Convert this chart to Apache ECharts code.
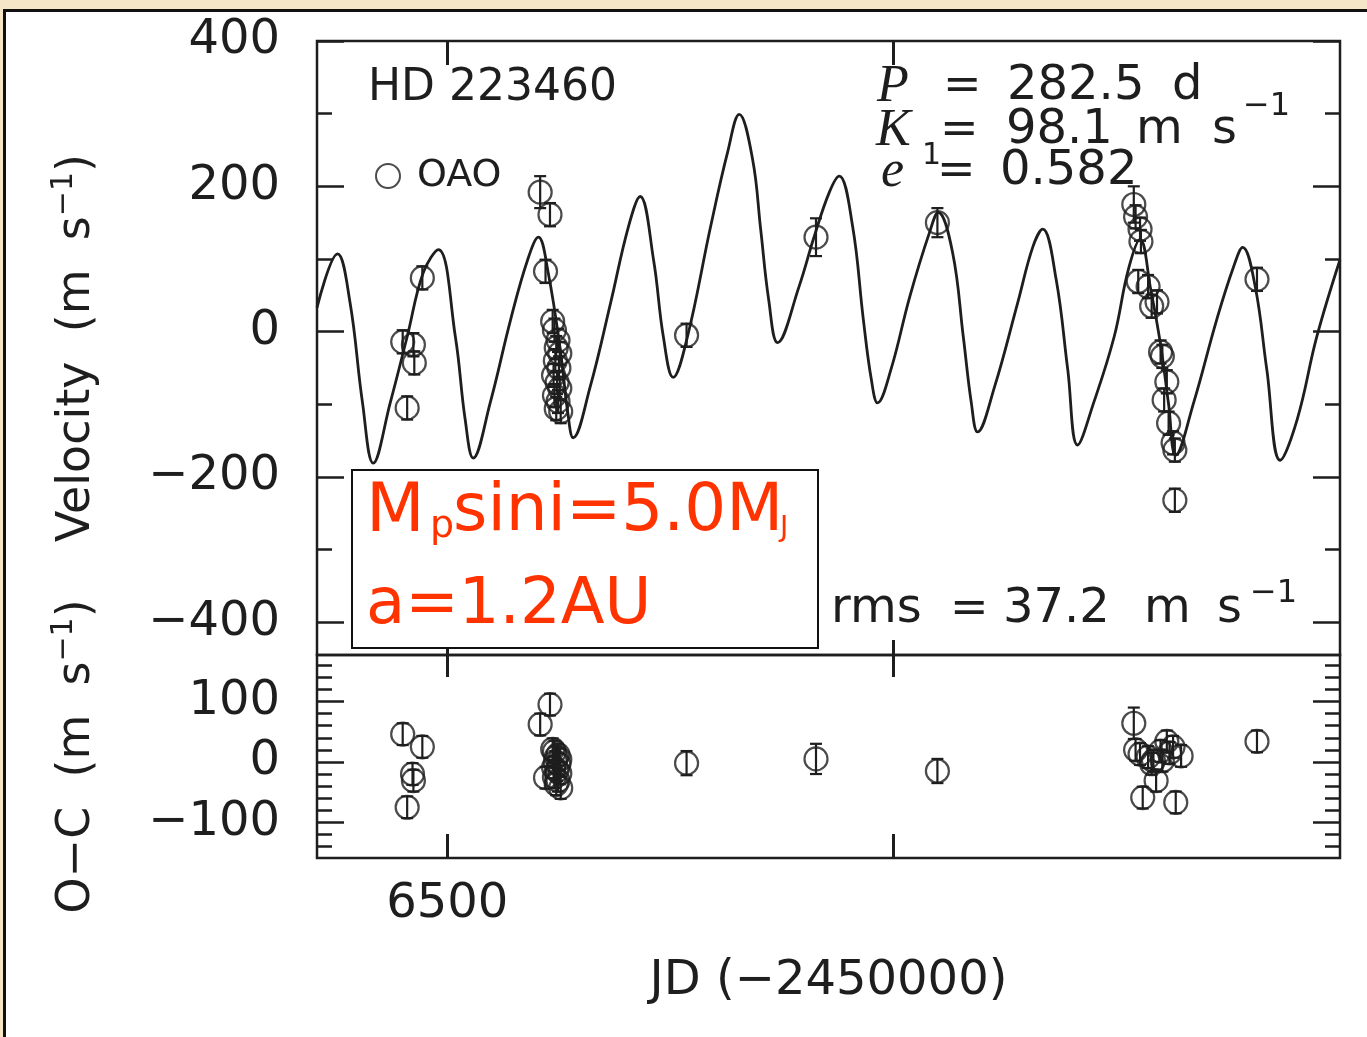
<!DOCTYPE html>
<html>
<head>
<meta charset="utf-8">
<title>HD 223460 radial velocity</title>
<script src="https://cdn.jsdelivr.net/npm/echarts@6/dist/echarts.min.js"></script>
<style>
  html, body { margin: 0; padding: 0; background: #f4e6c7; }
  #chart { width: 1367px; height: 1037px; }
</style>
</head>
<body>
<div id="chart"></div>
<script>
// Keplerian fit (JD-2450000, m/s)
var fitJD  = [6354, 6377, 6391, 6405, 6417, 6436, 6455, 6473, 6490, 6509, 6520, 6529,
              6548, 6571, 6590, 6602, 6613, 6627, 6635, 6641, 6660, 6683, 6703, 6716,
              6731, 6742, 6753, 6769, 6795, 6814, 6827, 6842, 6851, 6860, 6870, 6894,
              6911, 6928, 6939, 6954, 6966, 6975, 6982, 6997, 7018, 7040, 7050, 7066,
              7078, 7087, 7094, 7113, 7139, 7156, 7167, 7182, 7195, 7206, 7224, 7247,
              7263, 7276, 7288, 7299, 7308, 7316, 7336, 7362, 7381, 7391, 7405, 7418,
              7433, 7452, 7474, 7500];
var fitVel = [33, 107, 40, -98, -181, -98, -7, 81, 113, -7, -121, -174,
              -98, 17, 99, 130, 81, -29, -112, -146, -76, 40, 145, 186,
              99, -7, -63, -7, 145, 247, 299, 237, 141, 44, -15, 62,
              131, 192, 214, 145, 17, -66, -98, -52, 48, 136, 164, 109,
              -7, -98, -138, -76, 40, 117, 141, 72, -52, -156, -98, -7,
              86, 127, 58, -18, -100, -170, -98, 17, 90, 116, 62, -52,
              -177, -121, -7, 99];

// OAO velocities
var obsJD  = [6450, 6455, 6462, 6463, 6472,
              6604, 6610, 6615,
              6618, 6620, 6624, 6622, 6626, 6621, 6625, 6619, 6623, 6626, 6620, 6624, 6622, 6627,
              6768, 6913, 7049,
              7269, 7271, 7274, 7276, 7277, 7285, 7289, 7295, 7299, 7301, 7303, 7306, 7308, 7313, 7315, 7315,
              7407];
var obsVel = [-14, -105, -18, -43, 74,
              192, 83, 161,
              14, 2, -12, -22, -30, -40, -50, -60, -70, -78, -88, -96, -106, -110,
              -5, 130, 150,
              175, 158, 69, 141, 124, 62, 35, 41, -28, -34, -94, -69, -126, -153, -163, -232,
              72];
var obsErr = [16, 16, 16, 16, 16,
              22, 16, 16,
              16, 16, 16, 16, 16, 16, 16, 16, 16, 16, 16, 16, 16, 16,
              16, 26, 20,
              25, 16, 16, 16, 16, 16, 16, 16, 16, 16, 16, 16, 16, 16, 16, 16,
              16];

// residuals O-C
var resJD  = [6450, 6455, 6461, 6462, 6472,
              6604, 6610, 6615,
              6618, 6620, 6624, 6622, 6626, 6621, 6625, 6619, 6623, 6626, 6620, 6624, 6622, 6627,
              6768, 6913, 7049,
              7269, 7271, 7276, 7279, 7285, 7289, 7291, 7294, 7299, 7301, 7306, 7309, 7313, 7316, 7322,
              7407];
var resVal = [46, -75, -20, -31, 25,
              62, -26, 95,
              21, 17, 12, 8, 4, 0, -4, -9, -14, -19, -25, -31, -37, -43,
              -2, 5, -15,
              64, 20, 13, -59, 8, -3, 2, -31, 18, 2, 34, 15, 25, -67, 10,
              34];
var resErr = [18, 18, 18, 18, 18,
              18, 18, 18,
              18, 18, 18, 18, 18, 18, 18, 18, 18, 18, 18, 18, 18, 18,
              20, 25, 20,
              26, 18, 18, 18, 18, 18, 18, 18, 18, 18, 18, 18, 18, 18, 18,
              18];

// ticks
var jdTicks   = [6500, 7000];
var jdLabels  = [6500];
var velMajor  = [-400, -200, 0, 200, 400];
var velMinor  = [-300, -100, 100, 300];
var ocMajor   = [-100, 0, 100];
var ocMinor   = [-140, -120, -80, -60, -40, -20, 20, 40, 60, 80, 120, 140, 160];

var ink = '#1e1e1e';
var sans = 'DejaVu Sans';
var red = '#ff3300';

function pairs(xs, ys, es) {
  return xs.map(function (x, i) { return es ? [x, ys[i], es[i]] : [x, ys[i]]; });
}
function minus(v) { return v < 0 ? '\u2212' + Math.abs(v) : String(v); }

function errorBars(params, api) {
  var x = api.value(0), y = api.value(1), e = api.value(2);
  var lo = api.coord([x, y - e]), hi = api.coord([x, y + e]);
  var w = 6, st = { stroke: ink, lineWidth: 2.2 };
  return { type: 'group', children: [
    { type: 'line', shape: { x1: lo[0], y1: lo[1], x2: hi[0], y2: hi[1] }, style: st },
    { type: 'line', shape: { x1: lo[0] - w, y1: lo[1], x2: lo[0] + w, y2: lo[1] }, style: st },
    { type: 'line', shape: { x1: hi[0] - w, y1: hi[1], x2: hi[0] + w, y2: hi[1] }, style: st }
  ]};
}

function xAx(grid, pos, len, labels, extra) {
  var a = {
    type: 'value', gridIndex: grid, position: pos, min: 6354, max: 7500,
    axisLine: { show: false, onZero: false }, splitLine: { show: false },
    axisTick: { show: true, inside: true, length: len, customValues: jdTicks,
                lineStyle: { color: ink, width: 3 } },
    axisLabel: labels ? { show: true, customValues: jdLabels, margin: 23, formatter: minus,
                          fontFamily: sans, fontSize: 48, color: ink }
                      : { show: false }
  };
  for (var k in extra) a[k] = extra[k];
  return a;
}
function yAx(grid, pos, min, max, ticks, len, labels, extra) {
  var a = {
    type: 'value', gridIndex: grid, position: pos, min: min, max: max,
    axisLine: { show: false, onZero: false }, splitLine: { show: false },
    axisTick: { show: true, inside: true, length: len, customValues: ticks,
                lineStyle: { color: ink, width: 2.5 } },
    axisLabel: labels ? { show: true, customValues: ticks, margin: 37, formatter: minus,
                          fontFamily: sans, fontSize: 48, color: ink }
                      : { show: false }
  };
  for (var k in extra) a[k] = extra[k];
  return a;
}

var nameRich = {
  t: { fontFamily: sans, fontSize: 46, color: ink, lineHeight: 56 },
  s: { fontFamily: sans, fontSize: 30, color: ink, verticalAlign: 'top', lineHeight: 56 }
};

function label(text, x, y, size, extra) {
  var st = { text: text, x: x, y: y, fill: ink, fontFamily: sans, fontSize: size,
             align: 'left', verticalAlign: 'middle' };
  for (var k in extra) st[k] = extra[k];
  return { type: 'text', silent: true, z: 60, style: st };
}
var ital = { fontFamily: 'Liberation Serif', fontStyle: 'italic' };

var chart = echarts.init(document.getElementById('chart'));
chart.setOption({
  animation: false,
  backgroundColor: '#f4e6c7',
  grid: [
    { left: 317, top: 41, width: 1023, height: 614, show: true, borderColor: ink, borderWidth: 2.5 },
    { left: 317, top: 655, width: 1023, height: 203, show: true, borderColor: ink, borderWidth: 2.5 }
  ],
  legend: {
    data: ['OAO'], left: 370, top: 152, itemWidth: 24, itemHeight: 24, icon: 'circle',
    itemStyle: { color: 'rgba(0,0,0,0)', borderColor: ink, borderWidth: 2 },
    textStyle: { fontFamily: sans, fontSize: 38, color: ink, padding: [0, 0, 0, 12] }
  },
  xAxis: [
    xAx(0, 'bottom', 15, false),
    xAx(0, 'top', 24, false),
    xAx(1, 'bottom', 24, true, {
      name: 'JD (\u22122450000)', nameLocation: 'middle', nameGap: 100,
      nameTextStyle: { fontFamily: sans, fontSize: 48, color: ink }
    }),
    xAx(1, 'top', 22, false)
  ],
  yAxis: [
    yAx(0, 'left', -445, 400, velMajor, 27, true, {
      name: '{t|Velocity  (m  s}{s|\u22121}{t|)}', nameLocation: 'middle', nameRotate: 90,
      nameGap: 212, nameTextStyle: { rich: nameRich }
    }),
    yAx(0, 'left', -445, 400, velMinor, 15, false),
    yAx(0, 'right', -445, 400, velMajor, 27, false),
    yAx(0, 'right', -445, 400, velMinor, 15, false),
    yAx(1, 'left', -159, 177, ocMajor, 27, true, {
      name: '{t|O\u2212C  (m  s}{s|\u22121}{t|)}', nameLocation: 'middle', nameRotate: 90,
      nameGap: 212, nameTextStyle: { rich: nameRich }
    }),
    yAx(1, 'left', -159, 177, ocMinor, 15, false),
    yAx(1, 'right', -159, 177, ocMajor, 27, false),
    yAx(1, 'right', -159, 177, ocMinor, 15, false)
  ],
  series: [
    { type: 'line', name: 'fit', xAxisIndex: 0, yAxisIndex: 0, data: pairs(fitJD, fitVel),
      showSymbol: false, smooth: 0.4, lineStyle: { color: ink, width: 2.8 }, z: 2 },
    { type: 'custom', name: 'err', xAxisIndex: 0, yAxisIndex: 0, renderItem: errorBars,
      encode: { x: 0, y: 1 }, data: pairs(obsJD, obsVel, obsErr), z: 3 },
    { type: 'scatter', name: 'OAO', xAxisIndex: 0, yAxisIndex: 0, data: pairs(obsJD, obsVel),
      symbol: 'circle', symbolSize: 23,
      itemStyle: { color: 'rgba(0,0,0,0)', borderColor: ink, borderWidth: 2.2 }, z: 4 },
    { type: 'custom', name: 'res err', xAxisIndex: 2, yAxisIndex: 4, renderItem: errorBars,
      encode: { x: 0, y: 1 }, data: pairs(resJD, resVal, resErr), z: 3 },
    { type: 'scatter', name: 'O-C', xAxisIndex: 2, yAxisIndex: 4, data: pairs(resJD, resVal),
      symbol: 'circle', symbolSize: 23,
      itemStyle: { color: 'rgba(0,0,0,0)', borderColor: ink, borderWidth: 2.2 }, z: 4 }
  ],
  graphic: { elements: [
    { type: 'rect', silent: true, z: -100,
      shape: { x: 4.5, y: 10.5, width: 1400, height: 1100 },
      style: { fill: '#ffffff', stroke: '#111111', lineWidth: 3 } },

    label('HD 223460', 368, 89, 44),

    label('P', 877, 87, 52, ital),
    label('=', 943, 87, 46),
    label('282.5', 1007, 87, 48),
    label('d', 1172, 87, 48),

    label('K', 876, 131, 52, ital),
    label('1', 922, 156, 30),
    label('=', 940, 131, 46),
    label('98.1', 1006, 131, 48),
    label('m', 1136, 131, 48),
    label('s', 1212, 131, 48),
    label('\u22121', 1243, 107, 32),

    label('e', 881, 172, 52, ital),
    label('=', 937, 172, 46),
    label('0.582', 1000, 172, 48),

    label('rms', 831, 610, 48),
    label('=', 950, 610, 46),
    label('37.2', 1003, 610, 48),
    label('m', 1144, 610, 48),
    label('s', 1217, 610, 48),
    label('\u22121', 1250, 594, 32),

    { type: 'rect', silent: true, z: 50,
      shape: { x: 352, y: 470, width: 466, height: 178 },
      style: { fill: '#ffffff', stroke: '#111111', lineWidth: 2 } },
    label('M', 366, 513, 68, { fill: red }),
    label('p', 430, 527, 38, { fill: red }),
    label('sini=5.0M', 453, 513, 66, { fill: red }),
    label('J', 780, 529, 28, { fill: red }),
    label('a=1.2AU', 366, 606, 64, { fill: red })
  ]}
});
</script>
</body>
</html>
